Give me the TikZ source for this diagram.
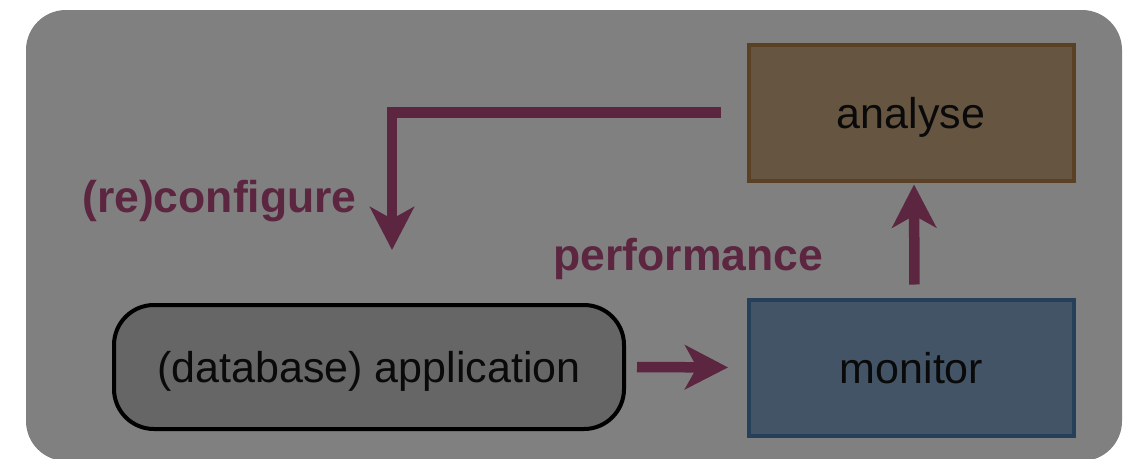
\documentclass[tikz,border=0pt]{standalone}
\usepackage{fontspec}
\setmainfont{Liberation Sans}
\usetikzlibrary{arrows.meta,calc}
\definecolor{bggray}{HTML}{808080}
\definecolor{flowc}{HTML}{5C2540}
\definecolor{anfill}{HTML}{655541}
\definecolor{anline}{HTML}{5A4125}
\definecolor{mofill}{HTML}{425465}
\definecolor{moline}{HTML}{27405A}
\definecolor{apfill}{HTML}{666666}
\definecolor{txt}{HTML}{0A0A0A}
\begin{document}
\begin{tikzpicture}[x=1pt,y=-1pt,
  stage/.style={rectangle, line width=4pt, minimum width=325pt, minimum height=136pt,
    inner sep=0pt, text height=31pt, text depth=0pt,
    font=\fontsize{43}{50}\selectfont, text=txt},
  appbox/.style={stage, draw=black, fill=apfill, rounded corners=40pt,
    minimum width=510pt, minimum height=124pt},
  flow/.style={draw=flowc, line width=10.5pt, line join=miter,
    -{Stealth[length=43pt,width=44pt,inset=12pt]}},
  flowlabel/.style={text=flowc, font=\bfseries\fontsize{44.5}{52}\selectfont,
    inner sep=0pt, anchor=base}]
\useasboundingbox (0,0) rectangle (1129,458);
\fill[bggray, rounded corners=40pt] (26,10) rectangle (1122,461);

\node[stage, draw=anline, fill=anfill] (analyse) at (911,112.5) {analyse};
\node[stage, draw=moline, fill=mofill] (monitor) at (911.5,367.5) {monitor};
\node[appbox] (app) at (369,367) {(database) application};

\draw[flow, shorten <=26pt, shorten >=53pt] (analyse.west) -| ($(app.north)+(23,0)$);
\draw[flow, shorten <=11pt, shorten >=19pt] (app.east) -- (monitor.west);
\draw[flow, shorten <=13pt, shorten >=2pt] ($(monitor.north)+(3,0)$) -- ($(analyse.south)+(3,0)$);

\node[flowlabel] (cfg) at (219.5,212) {(re)configure};
\node[flowlabel] (perf) at (688.5,270) {performance};
\end{tikzpicture}
\end{document}
